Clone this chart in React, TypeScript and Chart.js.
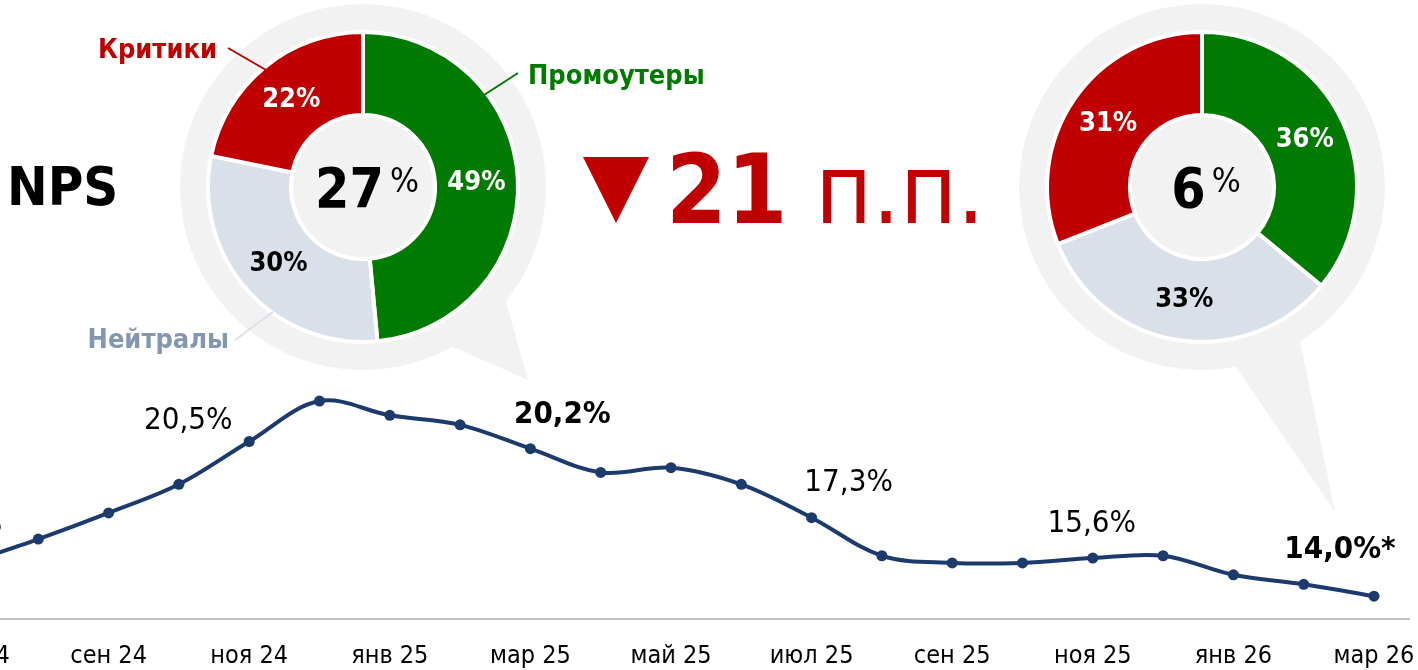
import React, { useEffect, useRef } from 'react';
import { Chart, registerables } from 'chart.js';

Chart.register(...registerables);

// ---------- DATA ----------
const months = ['июл 24', 'авг 24', 'сен 24', 'окт 24', 'ноя 24', 'дек 24', 'янв 25', 'фев 25', 'мар 25', 'апр 25', 'май 25', 'июн 25', 'июл 25', 'авг 25', 'сен 25', 'окт 25', 'ноя 25', 'дек 25', 'янв 26', 'фев 26', 'мар 26'];
const tickLabels = ['июл 24', '', 'сен 24', '', 'ноя 24', '', 'янв 25', '', 'мар 25', '', 'май 25', '', 'июл 25', '', 'сен 25', '', 'ноя 25', '', 'янв 26', '', 'мар 26'];
const npsValues = [15.4, 16.4, 17.5, 18.7, 20.5, 22.2, 21.6, 21.2, 20.2, 19.2, 19.4, 18.7, 17.3, 15.7, 15.4, 15.4, 15.6, 15.7, 14.9, 14.5, 14.0];
const labeledPoints = [0, 4, 8, 12, 16, 20];
const boldPoints = [8, 20];
const footnotePoints = [20];

const segmentNames = ['Промоутеры', 'Нейтралы', 'Критики'];
const sharesBefore = [49, 30, 22];
const sharesAfter = [36, 33, 31];
const npsBefore = 27;
const npsAfter = 6;
const deltaPP = 21;

// ---------- STYLE ----------
const FONT = '"DejaVu Sans Condensed", "DejaVu Sans", sans-serif';
const NAVY = '#1d3a6c';
const GREEN = '#007a00';
const RED = '#c00000';
const GREY = '#dae0ea';
const NEUTRAL_TXT = '#8497b0';
const HALO = '#f2f2f2';

// label offsets (dx of centre, dy of baseline) relative to the point, by labeledPoints order
const labelOffsets: [number, number][] = [[-10, -30], [-61, -13], [32, -26], [37, -27], [-1, -26], [-34, -38]];

const lineAxisPlugin = {
  id: 'lineAxis',
  beforeDatasetsDraw(chart: any) {
    const { ctx, chartArea } = chart;
    const xs = chart.scales.x;
    ctx.save();
    ctx.strokeStyle = '#bfbfbf';
    ctx.lineWidth = 2;
    ctx.beginPath();
    ctx.moveTo(0, chartArea.bottom - 1);
    ctx.lineTo(xs.getPixelForValue(months.length - 1) + 36, chartArea.bottom - 1);
    ctx.stroke();
    ctx.fillStyle = '#000';
    ctx.font = `25px ${FONT}`;
    ctx.textAlign = 'center';
    ctx.textBaseline = 'alphabetic';
    tickLabels.forEach((t, i) => {
      if (!t) return;
      ctx.fillText(t, xs.getPixelForValue(i), chartArea.bottom + 43);
    });
    ctx.restore();
  },
  afterDatasetsDraw(chart: any) {
    const { ctx } = chart;
    const meta = chart.getDatasetMeta(0);
    ctx.save();
    ctx.fillStyle = '#000';
    ctx.textAlign = 'center';
    ctx.textBaseline = 'alphabetic';
    labeledPoints.forEach((idx, k) => {
      const pt = meta.data[idx];
      const bold = boldPoints.includes(idx);
      ctx.font = `${bold ? 'bold ' : ''}31px ${FONT}`;
      let txt = npsValues[idx].toFixed(1).replace('.', ',') + '%';
      if (footnotePoints.includes(idx)) txt += '*';
      const [dx, dy] = labelOffsets[k];
      ctx.fillText(txt, pt.x + dx, pt.y + dy);
    });
    ctx.restore();
  },
};

function makeDonutPlugin(npsValue: number, tail: number[][], callouts: boolean) {
  return {
    id: 'donutExtras',
    beforeDatasetsDraw(chart: any) {
      const { ctx } = chart;
      const arc = chart.getDatasetMeta(0).data[0];
      const cx = arc.x, cy = arc.y;
      ctx.save();
      ctx.fillStyle = HALO;
      ctx.beginPath();
      ctx.arc(cx, cy, 183, 0, Math.PI * 2);
      ctx.fill();
      ctx.beginPath();
      ctx.moveTo(cx + tail[0][0], cy + tail[0][1]);
      ctx.lineTo(cx + tail[1][0], cy + tail[1][1]);
      ctx.lineTo(cx + tail[2][0], cy + tail[2][1]);
      ctx.closePath();
      ctx.fill();
      ctx.restore();
    },
    afterDatasetsDraw(chart: any) {
      const { ctx } = chart;
      const meta = chart.getDatasetMeta(0);
      const cx = meta.data[0].x, cy = meta.data[0].y;
      const values = chart.data.datasets[0].data;
      ctx.save();
      // segment labels
      ctx.font = `bold 27px ${FONT}`;
      ctx.textAlign = 'center';
      ctx.textBaseline = 'middle';
      meta.data.forEach((el: any, i: number) => {
        const p = el.getCenterPoint();
        ctx.fillStyle = i === 1 ? '#000' : '#fff';
        ctx.fillText(values[i] + '%', p.x, p.y + 1);
      });
      // centre value
      ctx.textAlign = 'left';
      ctx.textBaseline = 'alphabetic';
      ctx.font = `bold 55px ${FONT}`;
      const numTxt = String(npsValue);
      const w1 = ctx.measureText(numTxt).width;
      ctx.font = `34px ${FONT}`;
      const w2 = ctx.measureText('%').width;
      const gap = 6;
      const x0 = cx + 4 - (w1 + gap + w2) / 2;
      ctx.fillStyle = '#000';
      ctx.font = `bold 55px ${FONT}`;
      ctx.fillText(numTxt, x0, cy + 20);
      ctx.font = `34px ${FONT}`;
      ctx.fillText('%', x0 + w1 + gap, cy + 5);
      // leader lines
      if (callouts) {
        const lines: [string, number[]][] = [
          [RED, [-135, -139, -97, -117]],
          [GREEN, [121, -92, 155, -114]],
          [GREY, [-128, 153, -90, 125]],
        ];
        ctx.lineWidth = 2;
        lines.forEach(([c, l]) => {
          ctx.strokeStyle = c;
          ctx.beginPath();
          ctx.moveTo(cx + l[0], cy + l[1]);
          ctx.lineTo(cx + l[2], cy + l[3]);
          ctx.stroke();
        });
      }
      ctx.restore();
    },
  };
}

function donutConfig(values: number[], npsValue: number, centreX: number, tail: number[][], callouts: boolean) {
  const W = 1418, H = 670, cy = 187, half = 175;
  return {
    type: 'doughnut' as const,
    data: {
      labels: segmentNames,
      datasets: [{
        data: values,
        backgroundColor: [GREEN, GREY, RED],
        borderColor: '#ffffff',
        borderWidth: 4,
      }],
    },
    options: {
      responsive: false,
      animation: false as const,
      events: [],
      radius: 155,
      cutout: '46.5%',
      layout: { padding: { left: centreX - half, right: W - centreX - half, top: cy - half, bottom: H - cy - half } },
      plugins: { legend: { display: false }, tooltip: { enabled: false } },
    },
    plugins: [makeDonutPlugin(npsValue, tail, callouts)],
  };
}

export default function App() {
  const lineRef = useRef<HTMLCanvasElement>(null);
  const leftRef = useRef<HTMLCanvasElement>(null);
  const rightRef = useRef<HTMLCanvasElement>(null);

  useEffect(() => {
    const line = new Chart(lineRef.current as HTMLCanvasElement, {
      type: 'line',
      data: {
        labels: months,
        datasets: [{
          data: npsValues,
          borderColor: NAVY,
          backgroundColor: NAVY,
          borderWidth: 4,
          pointRadius: 5.5,
          pointBackgroundColor: NAVY,
          pointBorderWidth: 0,
          tension: 0.35,
          clip: false as any,
        }],
      },
      options: {
        responsive: false,
        animation: false,
        events: [],
        layout: { padding: { left: 100, right: 44, top: 382, bottom: 50 } },
        scales: {
          x: { display: false },
          y: { display: false, min: 13, max: 23 },
        },
        plugins: { legend: { display: false }, tooltip: { enabled: false } },
      },
      plugins: [lineAxisPlugin],
    });
    const left = new Chart(leftRef.current as HTMLCanvasElement, donutConfig(sharesBefore, npsBefore, 363,
      [[79, 155], [165, 193], [139, 101]], true) as any);
    const right = new Chart(rightRef.current as HTMLCanvasElement, donutConfig(sharesAfter, npsAfter, 1202,
      [[19, 158], [133, 325], [93, 129]], false) as any);
    return () => { line.destroy(); left.destroy(); right.destroy(); };
  }, []);

  const txt = (extra: React.CSSProperties): React.CSSProperties => ({
    position: 'absolute', whiteSpace: 'nowrap', lineHeight: 1, fontFamily: FONT, margin: 0, ...extra,
  });

  return (
    <div style={{ position: 'fixed', left: 0, top: 0, width: 1418, height: 670, overflow: 'hidden', background: '#fff' }}>
      <canvas ref={lineRef} width={1550} height={670} style={{ position: 'absolute', left: -132, top: 0, width: 1550, height: 670 }} />
      <canvas ref={leftRef} width={1418} height={670} style={{ position: 'absolute', left: 0, top: 0, width: 1418, height: 670 }} />
      <canvas ref={rightRef} width={1418} height={670} style={{ position: 'absolute', left: 0, top: 0, width: 1418, height: 670 }} />
      <div style={txt({ left: 7, top: 160, fontSize: 54, fontWeight: 'bold', color: '#000' })}>NPS</div>
      <div style={txt({ right: 1418 - 217, top: 35, fontSize: 27, fontWeight: 'bold', color: RED })}>{segmentNames[2]}</div>
      <div style={txt({ left: 528, top: 61, fontSize: 27, fontWeight: 'bold', color: GREEN })}>{segmentNames[0]}</div>
      <div style={txt({ right: 1418 - 229, top: 325, fontSize: 27, fontWeight: 'bold', color: NEUTRAL_TXT })}>{segmentNames[1]}</div>
      <div style={{ position: 'absolute', left: 583, top: 157, width: 0, height: 0, borderLeft: '33px solid transparent', borderRight: '33px solid transparent', borderTop: `66px solid ${RED}` }} />
      <div style={txt({ left: 666, top: 141, fontSize: 97, color: RED })}><b>{deltaPP}</b> п.п.</div>
    </div>
  );
}
